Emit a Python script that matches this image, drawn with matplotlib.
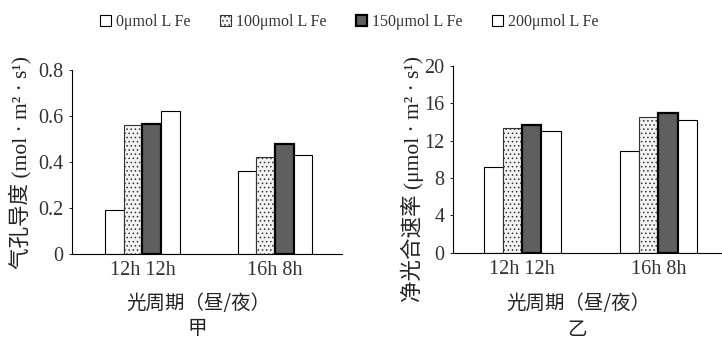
import matplotlib
matplotlib.use("Agg")
import matplotlib.pyplot as plt
import numpy as np

plt.rcParams['hatch.color'] = '#555555'
plt.rcParams['hatch.linewidth'] = 0.6

categories = ["12h 12h", "16h 8h"]
series = ["0μmol L Fe", "100μmol L Fe", "150μmol L Fe", "200μmol L Fe"]
gs_vals = {
    "0μmol L Fe": [0.19, 0.36],
    "100μmol L Fe": [0.56, 0.42],
    "150μmol L Fe": [0.565, 0.48],
    "200μmol L Fe": [0.62, 0.43],
}
pn_vals = {
    "0μmol L Fe": [9.2, 10.9],
    "100μmol L Fe": [13.3, 14.5],
    "150μmol L Fe": [13.7, 14.9],
    "200μmol L Fe": [13.0, 14.2],
}
styles = [
    dict(facecolor='white', edgecolor='black', linewidth=0.8, hatch=None),
    dict(facecolor='#f2f2f2', edgecolor='#333333', linewidth=0.8, hatch='....'),
    dict(facecolor='#5f5f5f', edgecolor='black', linewidth=1.6, hatch=None),
    dict(facecolor='white', edgecolor='black', linewidth=0.8, hatch=None),
]

serif = ['Liberation Serif', 'Noto Sans CJK SC']
cjk = ['Noto Sans CJK SC', 'DejaVu Sans']

fig = plt.figure(figsize=(7.22, 3.39), dpi=100)
axL = fig.add_axes([0.0997, 0.2507, 0.374, 0.5428])
axR = fig.add_axes([0.627, 0.254, 0.373, 0.552])

w = 0.141
x = np.arange(len(categories))
handles = []
for ax, vals, ylim, yticks, yticklabels, ylabel, xlim, ylx, xlx, sub in [
    (axL, gs_vals, (0, 0.8), [0, 0.2, 0.4, 0.6, 0.8], ["0", "0.2", "0.4", "0.6", "0.8"],
     "气孔导度 (mol · m² · s¹)", (-0.532, 1.506), 20, 198, "甲"),
    (axR, pn_vals, (0, 20), [0, 4, 8, 12, 16, 20], ["0", "4", "8", "12", "16", "20"],
     "净光合速率 (μmol · m² · s¹)", (-0.511, 1.467), 412, 578, "乙"),
]:
    hs = []
    for i, s in enumerate(series):
        b = ax.bar(x + (i - 1.5) * w, vals[s], width=w, label=s, **styles[i])
        hs.append(b)
    handles = hs
    ax.set_xlim(*xlim)
    ax.set_ylim(*ylim)
    ax.set_yticks(yticks)
    ax.set_yticklabels(yticklabels, family=serif, fontsize=14.5, color='#333333')
    ax.set_xticks(x)
    ax.set_xticklabels(categories, family=serif, fontsize=14.5, color='#333333')
    ax.spines['top'].set_visible(False)
    ax.spines['right'].set_visible(False)
    ax.tick_params(axis='both', length=2, width=0.6, pad=4)
    ax.tick_params(axis='x', length=0, pad=5)
    fig.text(ylx / 722, 1 - 56 / 339, ylabel, family=serif, fontsize=15.5, rotation=90,
             ha='center', va='top', color='#222222')
    fig.text(xlx / 722, 1 - 303 / 339, "光周期（昼/夜）", family=cjk, fontsize=14,
             ha='center', va='center', color='#222222')
    fig.text((xlx - 1) / 722, 1 - 329 / 339, sub, family=cjk, fontsize=14,
             ha='center', va='center', color='#222222')

fig.legend(handles, series, loc='center left', bbox_to_anchor=(0.1385, 0.935), ncol=4,
           frameon=False, prop={'family': serif, 'size': 11.5}, handlelength=0.7,
           handleheight=0.7, handletextpad=0.3, columnspacing=1.85, borderaxespad=0,
           borderpad=0, labelcolor='#333333')

fig.savefig("out.png", dpi=100)
